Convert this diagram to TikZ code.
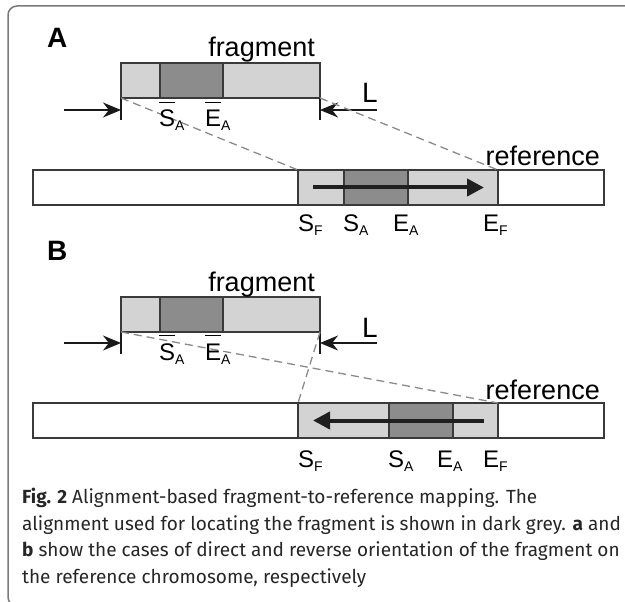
\documentclass[tikz,border=0pt]{standalone}
\usepackage{fontspec}
\setmainfont{Liberation Sans}
\newfontfamily\capfont{Fira Sans}
\usetikzlibrary{arrows.meta}

\definecolor{lightgrey}{HTML}{D3D3D3}
\definecolor{darkgrey}{HTML}{8C8C8C}
\definecolor{edgegrey}{HTML}{3A3A3A}
\definecolor{dashgrey}{HTML}{8A8A8A}
\definecolor{framegrey}{HTML}{7A7A7A}

% position label with subscript, optionally with a bar over the letter
\newcommand{\poslab}[2]{#1\raisebox{-4pt}{\fontsize{14}{14}\selectfont #2}}
\newcommand{\barlab}[2]{\setbox0\hbox{#1}\rlap{\rule[24pt]{\wd0}{1.4pt}}\box0\raisebox{-4pt}{\fontsize{14}{14}\selectfont #2}}

\begin{document}
\begin{tikzpicture}[x=1pt, y=-1pt,
  seg/.style={
    draw=edgegrey, line width=1.2pt, minimum height=35pt,
    inner sep=0pt, outer sep=0pt, anchor=north west
  },
  light/.style={seg, fill=lightgrey},
  dark/.style={seg, fill=darkgrey},
  blank/.style={seg, fill=white},
  word/.style={font=\fontsize{27}{30}\selectfont, inner sep=0pt, anchor=base east},
  poslabel/.style={font=\fontsize{24}{26}\selectfont, inner sep=0pt, anchor=base west},
  panel/.style={font=\fontsize{28}{30}\selectfont\bfseries, inner sep=0pt, anchor=base west},
  lenlabel/.style={font=\fontsize{28}{30}\selectfont, inner sep=0pt, anchor=base west},
  dimline/.style={line width=1.3pt, black!90},
  dimarrow/.style={dimline, -{Stealth[length=18pt, width=15pt]}},
  guide/.style={dashgrey, line width=1.3pt, dash pattern=on 8pt off 5pt},
  dirarrow/.style={line width=4pt, black!88, -{Triangle[length=17pt, width=17pt]}},
  capline/.style={font=\capfont\fontsize{19}{22}\selectfont, inner sep=0pt, anchor=base west, text=black!85}
  ]
  \useasboundingbox (0,0) rectangle (625,602);
  \begin{scope}
    \clip (0,0) rectangle (625,602);
    \draw[framegrey, line width=1.5pt, rounded corners=9pt] (8,6) rectangle (660,606);
  \end{scope}

  % A: direct orientation
  \node[panel] (pa) at (47,48) {A};
  \node[light, minimum width=39pt] (fa1) at (121,63) {};
  \node[dark, minimum width=63pt] (fa2) at (fa1.north east) {};
  \node[light, minimum width=97pt] (fa3) at (fa2.north east) {};
  \node[word] (fraga) at (315,57) {fragment};

  \node[blank, minimum width=265pt] (ra1) at (33,170) {};
  \node[light, minimum width=46pt] (ra2) at (ra1.north east) {};
  \node[dark, minimum width=64pt] (ra3) at (ra2.north east) {};
  \node[light, minimum width=90pt] (ra4) at (ra3.north east) {};
  \node[blank, minimum width=106pt] (ra5) at (ra4.north east) {};
  \node[word] (refa) at (600,165) {reference};

  \draw[dirarrow] ([xshift=15pt]ra2.west) -- ([xshift=-14pt]ra4.east);

  \draw[dimline] (fa1.south west) -- ++(0,22);
  \draw[dimline] (fa3.south east) -- ++(0,22);
  \coordinate (ina) at (64,110);
  \coordinate (outa) at (377,110);
  \draw[dimarrow] (ina) -- (ina -| fa1.south west);
  \draw[dimarrow] (outa) -- (outa -| fa3.south east);
  \node[lenlabel] (la) at (362,103) {L};

  \draw[guide] (fa1.south west) -- (ra2.north west);
  \draw[guide] (fa3.south east) -- (ra4.north east);

  \node[poslabel] (sa1) at (159,127) {\barlab{S}{A}};
  \node[poslabel] (ea1) at (205,127) {\barlab{E}{A}};
  \node[poslabel] (sfa) at (298,231) {\poslab{S}{F}};
  \node[poslabel] (saa) at (343,231) {\poslab{S}{A}};
  \node[poslabel] (eaa) at (393,231) {\poslab{E}{A}};
  \node[poslabel] (efa) at (483,231) {\poslab{E}{F}};

  % B: reverse orientation
  \node[panel] (pb) at (47,260) {B};
  \node[light, minimum width=39pt] (fb1) at (121,297) {};
  \node[dark, minimum width=63pt] (fb2) at (fb1.north east) {};
  \node[light, minimum width=97pt] (fb3) at (fb2.north east) {};
  \node[word] (fragb) at (315,291) {fragment};

  \node[blank, minimum width=265pt] (rb1) at (33,403) {};
  \node[light, minimum width=91pt] (rb2) at (rb1.north east) {};
  \node[dark, minimum width=64pt] (rb3) at (rb2.north east) {};
  \node[light, minimum width=45pt] (rb4) at (rb3.north east) {};
  \node[blank, minimum width=106pt] (rb5) at (rb4.north east) {};
  \node[word] (refb) at (600,399) {reference};

  \draw[dirarrow] ([xshift=-14pt]rb4.east) -- ([xshift=15pt]rb2.west);

  \draw[dimline] (fb1.south west) -- ++(0,22);
  \draw[dimline] (fb3.south east) -- ++(0,22);
  \coordinate (inb) at (64,343);
  \coordinate (outb) at (377,343);
  \draw[dimarrow] (inb) -- (inb -| fb1.south west);
  \draw[dimarrow] (outb) -- (outb -| fb3.south east);
  \node[lenlabel] (lb) at (362,337) {L};

  \draw[guide] (fb1.south west) -- (rb4.north east);
  \draw[guide] (fb3.south east) -- (rb2.north west);

  \node[poslabel] (sa2) at (159,360) {\barlab{S}{A}};
  \node[poslabel] (ea2) at (205,360) {\barlab{E}{A}};
  \node[poslabel] (sfb) at (298,467) {\poslab{S}{F}};
  \node[poslabel] (sab) at (388,467) {\poslab{S}{A}};
  \node[poslabel] (eab) at (437,467) {\poslab{E}{A}};
  \node[poslabel] (efb) at (483,467) {\poslab{E}{F}};

  % caption
  \node[capline] (cap1) at (22,503) {\textbf{Fig. 2} Alignment-based fragment-to-reference mapping. The};
  \node[capline] (cap2) at (22,530) {alignment used for locating the fragment is shown in dark grey. \textbf{a} and};
  \node[capline] (cap3) at (22,556) {\textbf{b} show the cases of direct and reverse orientation of the fragment on};
  \node[capline] (cap4) at (22,583) {the reference chromosome, respectively};
\end{tikzpicture}
\end{document}
